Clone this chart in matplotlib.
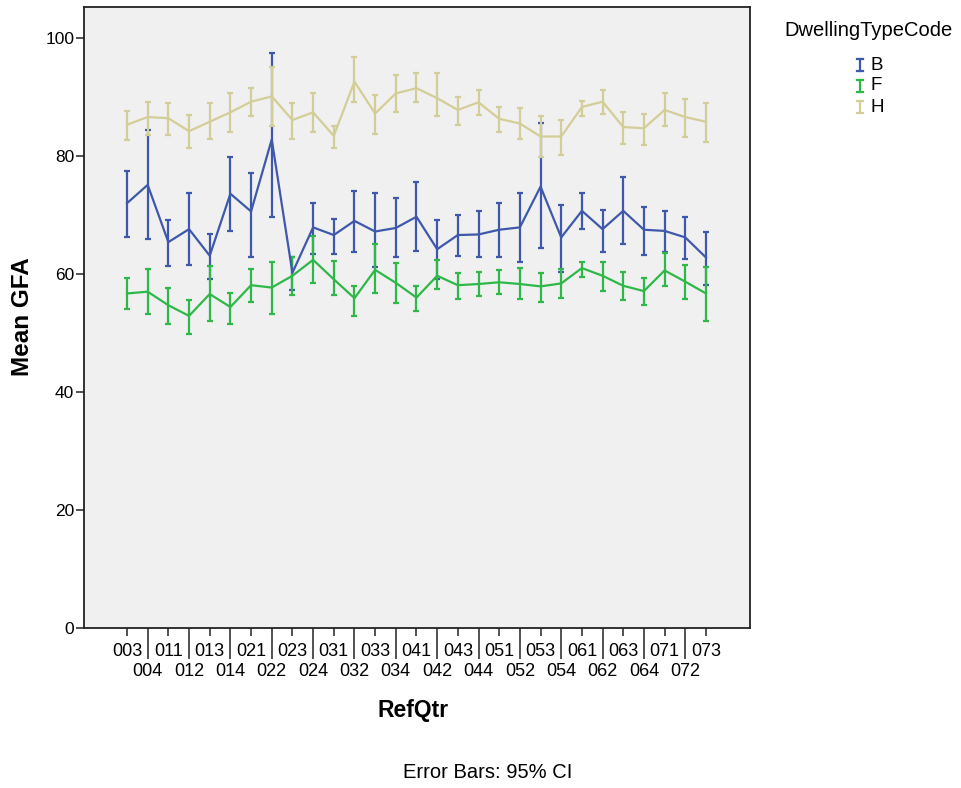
import matplotlib
matplotlib.use("Agg")
import matplotlib.pyplot as plt
from matplotlib.lines import Line2D

plt.rcParams['font.family'] = ['Liberation Sans', 'DejaVu Sans']

categories = ["003", "004", "011", "012", "013", "014", "021", "022", "023", "024",
              "031", "032", "033", "034", "041", "042", "043", "044", "051", "052",
              "053", "054", "061", "062", "063", "064", "071", "072", "073"]

b_mean = [72.0, 75.1, 65.4, 67.6, 63.1, 73.6, 70.6, 82.8, 60.2, 67.9,
          66.6, 69.0, 67.2, 67.8, 69.7, 64.2, 66.6, 66.7, 67.5, 67.9,
          74.8, 66.2, 70.7, 67.6, 70.7, 67.5, 67.3, 66.2, 62.8]
b_hi = [77.5, 84.4, 69.2, 73.8, 66.7, 79.9, 77.1, 97.4, 62.9, 72.0,
        69.4, 74.1, 73.7, 72.8, 75.6, 69.2, 70.0, 70.6, 72.0, 73.8,
        85.6, 71.7, 73.7, 70.8, 76.5, 71.3, 70.6, 69.7, 67.1]
b_lo = [66.2, 66.0, 61.4, 61.5, 59.1, 67.3, 62.9, 69.7, 57.3, 63.4,
        63.4, 63.8, 61.1, 62.9, 63.9, 59.1, 63.1, 62.8, 62.9, 62.1,
        64.4, 60.4, 67.7, 63.7, 65.1, 63.2, 63.8, 62.6, 58.1]

f_mean = [56.7, 57.0, 54.7, 52.9, 56.6, 54.4, 58.1, 57.7, 59.7, 62.4,
          59.1, 55.9, 60.7, 58.5, 56.0, 59.7, 58.1, 58.3, 58.6, 58.3,
          57.9, 58.4, 61.0, 59.7, 58.0, 57.1, 60.6, 58.7, 56.7]
f_hi = [59.3, 60.8, 57.7, 55.6, 61.4, 56.7, 60.8, 62.1, 62.9, 66.4,
        62.2, 58.0, 65.1, 61.9, 58.0, 62.4, 60.2, 60.4, 60.7, 61.0,
        60.2, 60.8, 62.1, 62.1, 60.4, 59.3, 63.6, 61.5, 61.1]
f_lo = [54.0, 53.3, 51.5, 49.8, 52.1, 51.6, 55.3, 53.2, 56.4, 58.5,
        56.4, 52.9, 56.8, 55.1, 53.8, 57.4, 55.8, 56.2, 56.6, 55.7,
        55.3, 56.0, 59.5, 57.1, 55.6, 54.7, 57.9, 55.7, 52.0]

h_mean = [85.3, 86.6, 86.4, 84.2, 85.8, 87.4, 89.2, 90.1, 86.1, 87.4,
          83.4, 92.6, 87.2, 90.6, 91.5, 89.8, 87.8, 89.1, 86.3, 85.5,
          83.3, 83.3, 88.3, 89.2, 84.9, 84.7, 87.8, 86.6, 85.8]
h_hi = [87.6, 89.2, 88.9, 86.9, 88.9, 90.6, 91.5, 95.1, 88.9, 90.6,
        85.0, 96.8, 90.3, 93.8, 94.0, 94.0, 90.0, 91.1, 88.3, 88.1,
        86.7, 86.1, 89.4, 91.2, 87.5, 87.1, 90.6, 89.6, 89.0]
h_lo = [82.7, 83.6, 83.6, 81.3, 82.8, 84.1, 86.8, 85.1, 82.8, 84.1,
        81.3, 89.1, 83.8, 87.4, 89.1, 86.8, 85.2, 86.9, 84.1, 82.8,
        79.9, 80.2, 86.8, 87.1, 82.1, 81.9, 85.1, 83.3, 82.4]

series_names = ["B", "F", "H"]
colors = ["#3E58AC", "#2EB848", "#D3CE97"]

fig = plt.figure(figsize=(9.61, 7.88), dpi=100)
ax = fig.add_axes([84/961, 1-628/788, (750-84)/961, (628-7)/788])
ax.set_facecolor("#F0F0F0")

x = list(range(len(categories)))
data = [(b_mean, b_lo, b_hi), (f_mean, f_lo, f_hi), (h_mean, h_lo, h_hi)]
for (m, lo, hi), c in zip(data, colors):
    yerr = [[mm - l for mm, l in zip(m, lo)], [h - mm for mm, h in zip(m, hi)]]
    ax.errorbar(x, m, yerr=yerr, color=c, lw=1.6, elinewidth=1.6,
                capsize=2.2, capthick=1.6)

ax.set_xlim(-2.08, 30.13)
ax.set_ylim(0, 105.25)
ax.set_yticks([0, 20, 40, 60, 80, 100])
ax.tick_params(axis='y', labelsize=12.5, length=6, width=1.2, color='#333333', pad=1)

even = x[0::2]
odd = x[1::2]
ax.set_xticks(even)
ax.set_xticklabels(categories[0::2])
ax.set_xticks(odd, minor=True)
ax.set_xticklabels(categories[1::2], minor=True)
ax.tick_params(axis='x', which='major', labelsize=13, length=6, width=1.2,
               color='#333333', pad=5)
ax.tick_params(axis='x', which='minor', labelsize=13, length=22, width=1.2,
               color='#333333', pad=3)

for s in ax.spines.values():
    s.set_linewidth(1.3)
    s.set_color('#222222')

fig.text(22.5/961, 1-317/788, "Mean GFA", rotation=90, ha='center', va='center',
         fontsize=17.5, fontweight='bold')
fig.text(413/961, 1-710/788, "RefQtr", ha='center', va='center',
         fontsize=16.5, fontweight='bold')

fig.text(488/961, 1-773/788, "Error Bars: 95% CI", ha='center', va='center', fontsize=14.5)

# legend
fig.text(868/961, 1-31/788, "DwellingTypeCode", ha='center', va='center', fontsize=14.5)
leg_y = [65, 86, 107]
for name, c, yy in zip(series_names, colors, leg_y):
    xf = 860/961
    y0 = 1-(yy-6)/788
    y1 = 1-(yy+6)/788
    fig.add_artist(Line2D([xf, xf], [y0, y1], color=c, lw=1.6, transform=fig.transFigure))
    for yc in (y0, y1):
        fig.add_artist(Line2D([xf-3/961, xf+3/961], [yc, yc], color=c, lw=1.6,
                              transform=fig.transFigure))
    fig.text(870/961, 1-yy/788, name, ha='left', va='center', fontsize=13.5)

fig.savefig("out.png", dpi=100, facecolor='white')
